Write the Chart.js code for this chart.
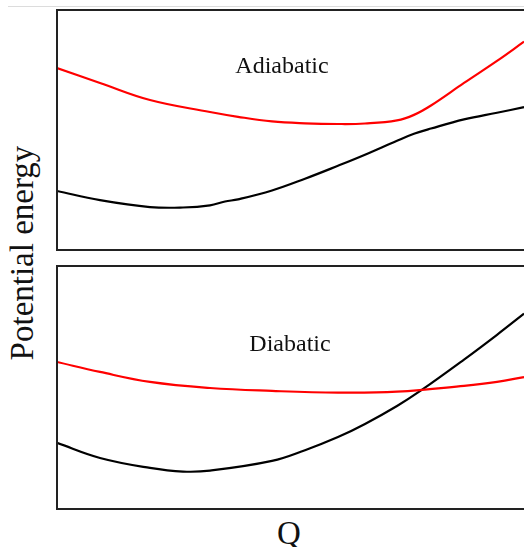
<!DOCTYPE html>
<html>
<head>
<meta charset="utf-8">
<script src="https://cdn.jsdelivr.net/npm/chart.js@4"></script>
<style>
  html, body { margin:0; padding:0; background:#fff; width:524px; height:547px; overflow:hidden; }
  .abs { position:absolute; }
  .lbl { font-family:"Liberation Serif","Times New Roman",serif; color:#111; white-space:nowrap; text-align:center; }
</style>
</head>
<body>
<div class="abs" style="left:8px;top:6px;width:516px;height:1px;background:#dcdcdc;"></div>
<canvas id="c1" class="abs" style="left:55px;top:8px;" width="472" height="244"></canvas>
<canvas id="c2" class="abs" style="left:55px;top:264px;" width="472" height="247"></canvas>
<div class="abs lbl" style="left:182px;top:50px;width:200px;font-size:24px;line-height:30px;">Adiabatic</div>
<div class="abs lbl" style="left:190px;top:328px;width:200px;font-size:24px;line-height:30px;">Diabatic</div>
<div class="abs lbl" style="left:189px;top:513px;width:200px;font-size:33px;line-height:40px;">Q</div>
<div class="abs lbl" style="left:-128px;top:233px;width:300px;height:40px;font-size:33px;line-height:40px;transform:rotate(-90deg);transform-origin:150px 20px;">Potential energy</div>
<script>
// Reaction coordinate Q (0-100) and potential energy (arbitrary units, 0-10)
const qTopRed   = [0, 9.19, 19.87, 32.69, 38.68, 45.94, 52.99, 60.04, 65.81, 72.65, 76.28, 79.91, 86.97, 94.02, 99.79];
const eTopRed   = [7.58, 6.96, 6.25, 5.75, 5.55, 5.36, 5.28, 5.25, 5.27, 5.40, 5.63, 6.02, 6.96, 7.88, 8.68];
const qTopBlack = [0, 9.19, 19.87, 26.92, 32.69, 35.90, 38.68, 45.94, 52.99, 60.04, 65.81, 72.65, 76.28, 79.91, 86.97, 94.02, 99.79];
const eTopBlack = [2.46, 2.08, 1.79, 1.77, 1.86, 2.02, 2.11, 2.48, 2.97, 3.51, 3.97, 4.55, 4.84, 5.06, 5.44, 5.72, 5.95];
const qBotRed   = [0, 9.19, 19.87, 32.69, 45.94, 60.04, 72.65, 86.97, 94.02, 99.79];
const eBotRed   = [6.05, 5.64, 5.23, 4.98, 4.86, 4.79, 4.83, 5.07, 5.23, 5.43];
const qBotBlack = [0, 9.19, 19.87, 26.92, 32.69, 45.94, 52.99, 60.04, 65.81, 72.65, 77.78, 86.97, 94.02, 99.79];
const eBotBlack = [2.72, 2.10, 1.69, 1.54, 1.58, 1.98, 2.42, 2.96, 3.50, 4.24, 4.88, 6.15, 7.17, 8.04];

const toPts = (q, e) => q.map((x, i) => ({x: x, y: e[i]}));

const boxPlugin = {
  id: 'box',
  afterDraw(chart) {
    const a = chart.chartArea, ctx = chart.ctx;
    ctx.save();
    ctx.strokeStyle = '#222';
    ctx.lineWidth = 2;
    ctx.strokeRect(a.left, a.top, a.right - a.left, a.bottom - a.top);
    ctx.restore();
  }
};

function makeChart(id, redPts, blackPts) {
  return new Chart(document.getElementById(id), {
    type: 'line',
    data: {
      datasets: [
        { data: redPts, borderColor: '#ff0000', borderWidth: 2.2, pointRadius: 0, tension: 0.4, fill: false },
        { data: blackPts, borderColor: '#000000', borderWidth: 2.2, pointRadius: 0, tension: 0.4, fill: false }
      ]
    },
    options: {
      responsive: false,
      animation: false,
      devicePixelRatio: 1,
      layout: { padding: 2 },
      plugins: { legend: { display: false }, tooltip: { enabled: false } },
      scales: {
        x: { type: 'linear', min: 0, max: 100, display: false },
        y: { type: 'linear', min: 0, max: 10, display: false }
      }
    },
    plugins: [boxPlugin]
  });
}

makeChart('c1', toPts(qTopRed, eTopRed), toPts(qTopBlack, eTopBlack));
makeChart('c2', toPts(qBotRed, eBotRed), toPts(qBotBlack, eBotBlack));
</script>
</body>
</html>
